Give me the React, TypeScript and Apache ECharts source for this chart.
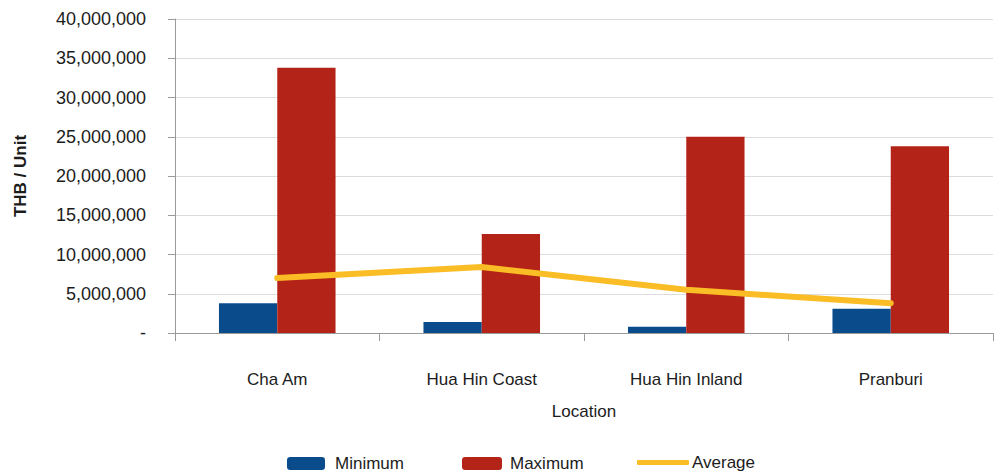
import React, { useEffect, useRef } from "react";
import * as echarts from "echarts";

const locations = ["Cha Am", "Hua Hin Coast", "Hua Hin Inland", "Pranburi"];
const minimumPrice = [3800000, 1400000, 800000, 3100000];
const maximumPrice = [33800000, 12600000, 25000000, 23800000];
const averagePrice = [7000000, 8400000, 5500000, 3800000];

const FONT = "Liberation Sans, Arial, sans-serif";
const TEXT = "#1c1c1c";
const BLUE = "#0a4b8c";
const RED = "#b42318";
const GOLD = "#fbbd25";

function formatTick(v: number): string {
  if (v === 0) return "-";
  return v.toLocaleString("en-US");
}

export default function App() {
  const ref = useRef<HTMLDivElement>(null);

  useEffect(() => {
    if (!ref.current) return;
    const chart = echarts.init(ref.current, null, { renderer: "svg" });
    chart.setOption({
      animation: false,
      backgroundColor: "#ffffff",
      textStyle: { fontFamily: FONT },
      grid: { left: 175, right: 3, top: 19, bottom: 141, containLabel: false },
      xAxis: {
        type: "category",
        data: locations,
        name: "Location",
        nameLocation: "middle",
        nameGap: 70,
        nameTextStyle: { fontFamily: FONT, fontSize: 17, color: TEXT },
        axisLine: { lineStyle: { color: "#9a9a9a", width: 1 } },
        axisTick: { show: true, alignWithLabel: false, length: 8, lineStyle: { color: "#9a9a9a" } },
        axisLabel: { margin: 38, fontFamily: FONT, fontSize: 17, color: TEXT },
      },
      yAxis: {
        type: "value",
        min: 0,
        max: 40000000,
        interval: 5000000,
        name: "THB / Unit",
        nameLocation: "middle",
        nameGap: 146,
        nameTextStyle: { fontFamily: FONT, fontSize: 17, fontWeight: "bold", color: TEXT },
        axisLine: { show: true, lineStyle: { color: "#9a9a9a", width: 1 } },
        axisTick: { show: true, length: 7, lineStyle: { color: "#9a9a9a" } },
        axisLabel: { margin: 29, fontFamily: FONT, fontSize: 18, color: TEXT, formatter: formatTick },
        splitLine: { lineStyle: { color: "#dcdcdc", width: 1 } },
      },
      legend: [
        {
          data: [{ name: "Minimum" }],
          left: 287,
          top: 455,
          padding: 0,
          itemWidth: 38,
          itemHeight: 13,
          textStyle: { fontFamily: FONT, fontSize: 17, color: TEXT, padding: [0, 0, 0, 5] },
        },
        {
          data: [{ name: "Maximum" }],
          left: 462,
          top: 455,
          padding: 0,
          itemWidth: 40,
          itemHeight: 13,
          textStyle: { fontFamily: FONT, fontSize: 17, color: TEXT, padding: [0, 0, 0, 3] },
        },
        {
          data: [{ name: "Average", icon: "roundRect", itemStyle: { color: GOLD } }],
          left: 637,
          top: 454,
          padding: 0,
          itemWidth: 52,
          itemHeight: 5,
          textStyle: { fontFamily: FONT, fontSize: 17, color: TEXT, padding: [0, 0, 0, -2] },
        },
      ],
      series: [
        {
          name: "Minimum",
          type: "bar",
          data: minimumPrice,
          barGap: "0%",
          barCategoryGap: "43%",
          itemStyle: { color: BLUE },
        },
        {
          name: "Maximum",
          type: "bar",
          data: maximumPrice,
          barGap: "0%",
          barCategoryGap: "43%",
          itemStyle: { color: RED },
        },
        {
          name: "Average",
          type: "line",
          data: averagePrice,
          symbol: "none",
          z: 5,
          lineStyle: { color: GOLD, width: 6, cap: "round", join: "round" },
          itemStyle: { color: GOLD },
        },
      ],
    });
    return () => chart.dispose();
  }, []);

  return <div ref={ref} style={{ width: 996, height: 474, position: "absolute", left: 0, top: 0 }} />;
}
